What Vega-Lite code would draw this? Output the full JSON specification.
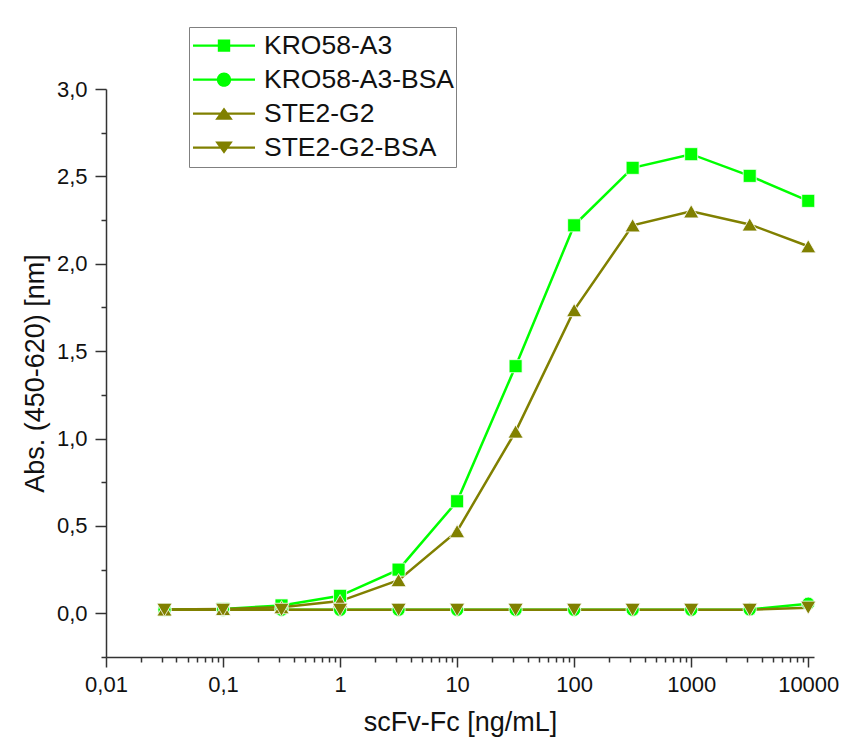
{
  "$schema": "https://vega.github.io/schema/vega-lite/v6.json",
  "width": 708,
  "height": 568,
  "autosize": "none",
  "padding": {"left": 106, "top": 89, "right": 34, "bottom": 90},
  "background": "white",
  "config": {
    "view": {"stroke": null},
    "font": "Liberation Sans",
    "axis": {"grid": false, "domainColor": "#333333", "domainWidth": 1.5, "tickColor": "#333333", "tickWidth": 1.5, "labelColor": "#111111", "titleColor": "#111111", "labelFont": "Liberation Sans", "titleFont": "Liberation Sans", "labelFontSize": 22, "titleFontSize": 27, "titleFontWeight": "normal"},
    "legend": {"labelFontSize": 26.5, "labelLimit": 400, "symbolSize": 3844}
  },
  "data": {
    "values": [
      {"series": "KRO58-A3", "conc": 0.0316, "abs": 0.02},
      {"series": "KRO58-A3", "conc": 0.1, "abs": 0.025},
      {"series": "KRO58-A3", "conc": 0.316, "abs": 0.045},
      {"series": "KRO58-A3", "conc": 1, "abs": 0.1},
      {"series": "KRO58-A3", "conc": 3.16, "abs": 0.25},
      {"series": "KRO58-A3", "conc": 10, "abs": 0.641},
      {"series": "KRO58-A3", "conc": 31.6, "abs": 1.414},
      {"series": "KRO58-A3", "conc": 100, "abs": 2.22},
      {"series": "KRO58-A3", "conc": 316, "abs": 2.549},
      {"series": "KRO58-A3", "conc": 1000, "abs": 2.627},
      {"series": "KRO58-A3", "conc": 3162, "abs": 2.503},
      {"series": "KRO58-A3", "conc": 10000, "abs": 2.36},
      {"series": "KRO58-A3-BSA", "conc": 0.0316, "abs": 0.02},
      {"series": "KRO58-A3-BSA", "conc": 0.1, "abs": 0.02},
      {"series": "KRO58-A3-BSA", "conc": 0.316, "abs": 0.02},
      {"series": "KRO58-A3-BSA", "conc": 1, "abs": 0.02},
      {"series": "KRO58-A3-BSA", "conc": 3.16, "abs": 0.02},
      {"series": "KRO58-A3-BSA", "conc": 10, "abs": 0.02},
      {"series": "KRO58-A3-BSA", "conc": 31.6, "abs": 0.02},
      {"series": "KRO58-A3-BSA", "conc": 100, "abs": 0.02},
      {"series": "KRO58-A3-BSA", "conc": 316, "abs": 0.02},
      {"series": "KRO58-A3-BSA", "conc": 1000, "abs": 0.02},
      {"series": "KRO58-A3-BSA", "conc": 3162, "abs": 0.022},
      {"series": "KRO58-A3-BSA", "conc": 10000, "abs": 0.055},
      {"series": "STE2-G2", "conc": 0.0316, "abs": 0.022},
      {"series": "STE2-G2", "conc": 0.1, "abs": 0.025},
      {"series": "STE2-G2", "conc": 0.316, "abs": 0.035},
      {"series": "STE2-G2", "conc": 1, "abs": 0.07},
      {"series": "STE2-G2", "conc": 3.16, "abs": 0.19},
      {"series": "STE2-G2", "conc": 10, "abs": 0.47},
      {"series": "STE2-G2", "conc": 31.6, "abs": 1.04},
      {"series": "STE2-G2", "conc": 100, "abs": 1.735},
      {"series": "STE2-G2", "conc": 316, "abs": 2.22},
      {"series": "STE2-G2", "conc": 1000, "abs": 2.3},
      {"series": "STE2-G2", "conc": 3162, "abs": 2.225},
      {"series": "STE2-G2", "conc": 10000, "abs": 2.1},
      {"series": "STE2-G2-BSA", "conc": 0.0316, "abs": 0.02},
      {"series": "STE2-G2-BSA", "conc": 0.1, "abs": 0.02},
      {"series": "STE2-G2-BSA", "conc": 0.316, "abs": 0.02},
      {"series": "STE2-G2-BSA", "conc": 1, "abs": 0.02},
      {"series": "STE2-G2-BSA", "conc": 3.16, "abs": 0.02},
      {"series": "STE2-G2-BSA", "conc": 10, "abs": 0.02},
      {"series": "STE2-G2-BSA", "conc": 31.6, "abs": 0.02},
      {"series": "STE2-G2-BSA", "conc": 100, "abs": 0.02},
      {"series": "STE2-G2-BSA", "conc": 316, "abs": 0.02},
      {"series": "STE2-G2-BSA", "conc": 1000, "abs": 0.02},
      {"series": "STE2-G2-BSA", "conc": 3162, "abs": 0.02},
      {"series": "STE2-G2-BSA", "conc": 10000, "abs": 0.032}
    ]
  },
  "encoding": {
    "x": {
      "field": "conc", "type": "quantitative",
      "scale": {"type": "log", "domain": [0.01, 11200], "nice": false},
      "axis": {
        "title": "scFv-Fc [ng/mL]",
        "values": [0.01,0.02,0.03,0.04,0.05,0.06,0.07,0.08,0.09,0.1,0.2,0.3,0.4,0.5,0.6,0.7,0.8,0.9,1,2,3,4,5,6,7,8,9,10,20,30,40,50,60,70,80,90,100,200,300,400,500,600,700,800,900,1000,2000,3000,4000,5000,6000,7000,8000,9000,10000],
        "labelExpr": "abs(log(datum.value)/LN10 - round(log(datum.value)/LN10)) < 0.001 ? replace(format(datum.value, '~g'), '.', ',') : ''",
        "tickSize": {"condition": {"test": "abs(log(datum.value)/LN10 - round(log(datum.value)/LN10)) < 0.001", "value": 10}, "value": 5},
        "labelPadding": 7,
        "labelFlush": false,
        "labelOverlap": false,
        "labelBound": false,
        "titlePadding": 14
      }
    },
    "y": {
      "field": "abs", "type": "quantitative",
      "scale": {"domain": [-0.25, 3.0], "nice": false, "zero": false},
      "axis": {
        "title": "Abs. (450-620) [nm]",
        "values": [-0.25,0,0.25,0.5,0.75,1,1.25,1.5,1.75,2,2.25,2.5,2.75,3],
        "labelExpr": "abs(datum.value*2 - round(datum.value*2)) < 0.001 ? replace(format(datum.value, '.1f'), '.', ',') : ''",
        "tickSize": {"condition": {"test": "abs(datum.value*2 - round(datum.value*2)) < 0.001", "value": 11}, "value": 5},
        "labelPadding": 8,
        "labelOverlap": false,
        "labelFlush": false,
        "titlePadding": 7
      }
    },
    "color": {
      "field": "series", "type": "nominal",
      "scale": {"domain": ["KRO58-A3", "KRO58-A3-BSA", "STE2-G2", "STE2-G2-BSA"], "range": ["#00ff00", "#00ff00", "#808000", "#808000"]},
      "legend": {
        "orient": "none", "legendX": 83, "legendY": -62, "title": null,
        "clipHeight": 33.3, "symbolSize": 3844, "rowPadding": 0, "symbolOffset": 2,
        "labelFont": "Liberation Sans", "labelFontSize": 26.5, "labelLimit": 400, "labelColor": "#111111", "labelOffset": 9,
        "padding": 2, "strokeColor": "#808080", "fillColor": "white", "symbolStrokeWidth": 0,
        "encode": {
          "symbols": {
            "update": {
              "shape": {"signal": "datum.value === 'KRO58-A3' ? 'M-1,-0.035H1V0.035H-1ZM-0.2,-0.2H0.2V0.2H-0.2Z' : datum.value === 'KRO58-A3-BSA' ? 'M-1,-0.035H1V0.035H-1ZM0.23,0A0.23,0.23 0 1 1 -0.23,0A0.23,0.23 0 1 1 0.23,0Z' : datum.value === 'STE2-G2' ? 'M-1,-0.035H1V0.035H-1ZM0,-0.2L0.285,0.2H-0.285Z' : 'M-1,-0.035H1V0.035H-1ZM0,0.2L-0.285,-0.2H0.285Z'"},
              "fill": {"signal": "scale('color', datum.value)"},
              "stroke": {"value": "transparent"},
              "size": {"value": 3844},
              "opacity": {"value": 1}
            }
          }
        }
      }
    }
  },
  "layer": [
    {"mark": {"type": "line", "strokeWidth": 2.5}},
    {
      "transform": [{"filter": "datum.series === 'KRO58-A3'"}],
      "mark": {"type": "point", "shape": "square", "size": 170, "filled": true, "opacity": 1, "stroke": "white", "strokeWidth": 0.8}
    },
    {
      "transform": [{"filter": "datum.series === 'KRO58-A3-BSA'"}],
      "mark": {"type": "point", "shape": "circle", "size": 175, "filled": true, "opacity": 1, "stroke": "white", "strokeWidth": 0.8}
    },
    {
      "transform": [{"filter": "datum.series === 'STE2-G2'"}],
      "mark": {"type": "point", "shape": "triangle-up", "size": 230, "filled": true, "opacity": 1, "stroke": "white", "strokeWidth": 0.8}
    },
    {
      "transform": [{"filter": "datum.series === 'STE2-G2-BSA'"}],
      "mark": {"type": "point", "shape": "triangle-down", "size": 230, "filled": true, "opacity": 1, "stroke": "white", "strokeWidth": 0.8}
    }
  ]
}
